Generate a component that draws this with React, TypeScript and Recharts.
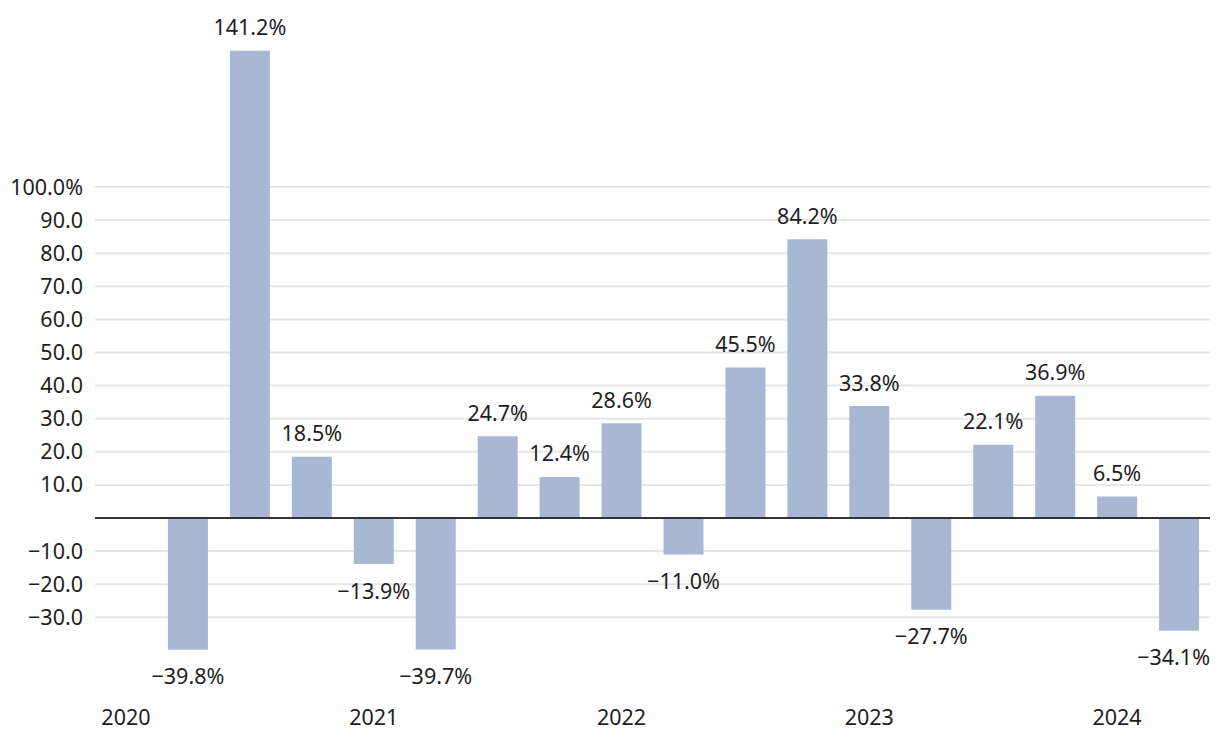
import React from 'react';
import { BarChart, Bar, XAxis, YAxis, CartesianGrid, ReferenceLine, LabelList } from 'recharts';

const periods = [
	'2020 Q1', '2020 Q2', '2020 Q3', '2020 Q4',
	'2021 Q1', '2021 Q2', '2021 Q3', '2021 Q4',
	'2022 Q1', '2022 Q2', '2022 Q3', '2022 Q4',
	'2023 Q1', '2023 Q2', '2023 Q3', '2023 Q4',
	'2024 Q1', '2024 Q2',
];
const growth: (number | null)[] = [
	null, -39.8, 141.2, 18.5,
	-13.9, -39.7, 24.7, 12.4,
	28.6, -11.0, 45.5, 84.2,
	33.8, -27.7, 22.1, 36.9,
	6.5, -34.1,
];
const yTicks = [-30, -20, -10, 10, 20, 30, 40, 50, 60, 70, 80, 90, 100];

const data = periods.map((p, i) => ({ period: p, value: growth[i] }));

const FONT = '"Noto Sans", sans-serif';
const TEXT = '#1e1e1e';
const SIZE = 21.5;
const W = 1204;
const RIGHT_EDGE = W - 2;

const fmt = (v: number) => {
	const s = Math.abs(v).toFixed(1);
	return v < 0 ? `\u2212${s}` : s;
};

function YTick({ y, payload }: any) {
	const v = payload.value as number;
	return (
		<text x={75} y={y} dy="0.35em" textAnchor="end" fill={TEXT} fontSize={SIZE} fontFamily={FONT}>
			{v === 100 ? `${fmt(v)}%` : fmt(v)}
		</text>
	);
}

function XTick({ x, y, payload }: any) {
	const label = String(payload.value);
	if (!label.endsWith('Q1')) return null;
	return (
		<text x={x} y={y + 26} dy="0.35em" textAnchor="middle" fill={TEXT} fontSize={SIZE} fontFamily={FONT}>
			{label.slice(0, 4)}
		</text>
	);
}

function ValueLabel({ x, y, width, height, value }: any) {
	if (value === null || value === undefined) return null;
	const top = Math.min(y, y + height);
	const bottom = Math.max(y, y + height);
	const text = `${fmt(value)}%`;
	const half = (text.length * SIZE * 0.58) / 2;
	let cx = x + width / 2;
	let anchor: 'middle' | 'end' = 'middle';
	if (cx + half > RIGHT_EDGE) {
		cx = RIGHT_EDGE;
		anchor = 'end';
	}
	const ty = value >= 0 ? top - 23 : bottom + 27;
	return (
		<text x={cx} y={ty} dy="0.35em" textAnchor={anchor} fill={TEXT} fontSize={SIZE} fontFamily={FONT}>
			{text}
		</text>
	);
}

export default function App() {
	return (
		<div style={{ width: W, height: 732 }}>
			<BarChart
				width={W}
				height={732}
				data={data}
				margin={{ top: 13.5, right: 2, left: 0, bottom: 26.5 }}
			>
				<CartesianGrid vertical={false} horizontalValues={yTicks} stroke="#e6e6e6" strokeWidth={2} />
				<XAxis
					dataKey="period"
					interval={0}
					axisLine={false}
					tickLine={false}
					height={30}
					tick={<XTick />}
				/>
				<YAxis
					domain={[-50, 150]}
					ticks={yTicks}
					width={87}
					axisLine={false}
					tickLine={false}
					tick={<YTick />}
				/>
				<Bar dataKey="value" fill="#a8b8d4" barSize={40} isAnimationActive={false}>
					<LabelList dataKey="value" content={<ValueLabel />} />
				</Bar>
				<ReferenceLine y={0} stroke="#333333" strokeWidth={2} />
			</BarChart>
		</div>
	);
}
